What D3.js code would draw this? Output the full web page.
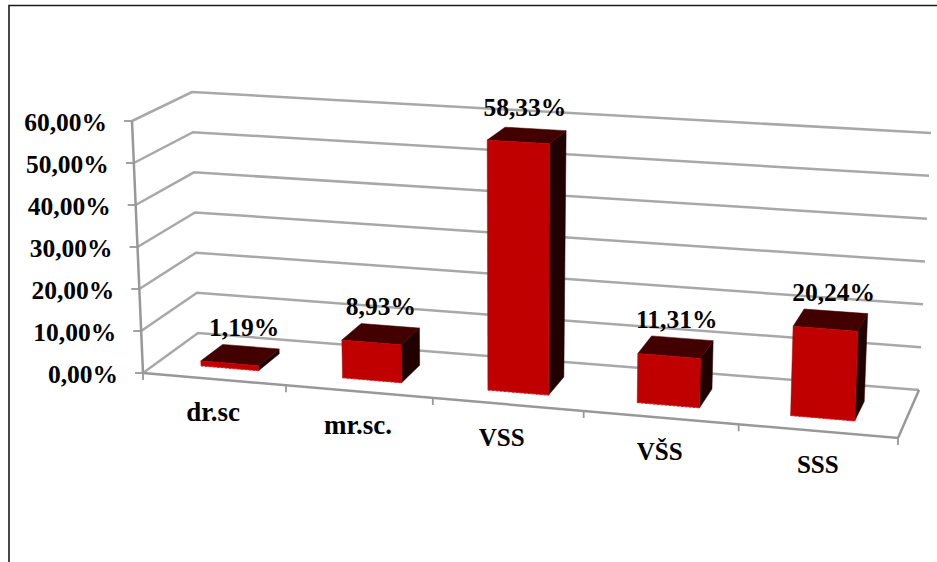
<!DOCTYPE html>
<html><head><meta charset="utf-8">
<script src="https://cdn.jsdelivr.net/npm/d3@7/dist/d3.min.js"></script>
<style>html,body{margin:0;padding:0;background:#fff}svg{display:block}text{font-family:"Liberation Serif",serif;font-weight:bold;fill:#000}</style>
</head><body><div id="c"></div><script>
const categories = ["dr.sc","mr.sc.","VSS","VŠS","SSS"];
const values = [1.19,8.93,58.33,11.31,20.24];
const valueLabels = ["1,19%","8,93%","58,33%","11,31%","20,24%"];
const ticks = [0,10,20,30,40,50,60];
const tickLabels = ["0,00%","10,00%","20,00%","30,00%","40,00%","50,00%","60,00%"];

const W=937,H=562;
const svg=d3.select("#c").append("svg").attr("width",W).attr("height",H);
svg.append("path").attr("d",d3.line()([[9,H],[9,5.5],[W,5.5]])).attr("fill","none").attr("stroke","#1a1a1a").attr("stroke-width",1.6);

// oblique 3D box: corners of the plot cube on screen
const corners={flb:[143,373],flt:[132,121],frb:[898,438],frt:[908,167],blb:[198,333],blt:[192,92],brb:[919,390],brt:[931,133]};
const vScale=d3.scaleLinear().domain([0,60]).range([0,1]);
const band=d3.scaleBand().domain(categories).range([0,1]).paddingInner(.59).paddingOuter(.31);
const persp=1.07, warp=t=>t/(t+persp*(1-t));
const mix=(a,b,k)=>[a[0]+(b[0]-a[0])*k,a[1]+(b[1]-a[1])*k];
function P(t,v,d){
  const s=warp(t), h=vScale(v);
  const fb=mix(corners.flb,corners.frb,s), ft=mix(corners.flt,corners.frt,s);
  const bb=mix(corners.blb,corners.brb,s), bt=mix(corners.blt,corners.brt,s);
  return mix(mix(fb,ft,h),mix(bb,bt,h),d);
}
const line=d3.line(), G="#a8a8a8", A="#989898";
const g=svg.append("g").attr("fill","none").attr("stroke",G).attr("stroke-width",2.5);
ticks.forEach(v=>{ g.append("path").attr("d",line([P(0,v,0),P(0,v,1),P(1,v,1)])); });
const a=svg.append("g").attr("fill","none").attr("stroke",A).attr("stroke-width",2.5);
a.append("path").attr("d",line([P(0,60,0),P(0,0,0)]));
a.append("path").attr("d",line([P(0,0,0),P(1,0,0),P(1,0,1)]));
ticks.forEach(v=>{const p=P(0,v,0); a.append("path").attr("stroke-width",1.8).attr("d",line([[p[0]-8,p[1]],p]));});
d3.range(6).forEach(i=>{const p=P(i/5,0,0); a.append("path").attr("stroke-width",1.8).attr("d",line([p,[p[0],p[1]+7]]));});

// bars
const d0=.27,d1=.68;
const bars=svg.append("g");
categories.forEach((c,i)=>{
  const t0=band(c),t1=t0+band.bandwidth(),v=values[i];
  const poly=(pts,fill)=>bars.append("polygon").attr("points",pts.map(p=>p.join(",")).join(" ")).attr("fill",fill).attr("stroke",fill).attr("stroke-width",.5);
  poly([P(t1,0,d0),P(t1,0,d1),P(t1,v,d1),P(t1,v,d0)],"#210000");
  poly([P(t0,v,d0),P(t1,v,d0),P(t1,v,d1),P(t0,v,d1)],"#420000");
  poly([P(t0,0,d0),P(t1,0,d0),P(t1,v,d0),P(t0,v,d0)],"#c00000");
  bars.append("path").attr("d",line([P(t0,0,d0),P(t1,0,d0)])).attr("stroke","#f01010").attr("stroke-width",1).attr("stroke-dasharray","2 2");
});

// text
const catSize=[27,27,25,25,25], catShift=[-1,-1,-6,-1,0], labelShift=[4,0,-2,1,3];
const txt=(x,y,s,size,anchor)=>svg.append("text").attr("x",x).attr("y",y).attr("font-size",size).attr("text-anchor",anchor).text(s);
ticks.forEach((v,i)=>{const p=P(0,v,0); txt(p[0]-25,p[1]+10,tickLabels[i],25.5,"end");});
categories.forEach((c,i)=>{const p=P((i+.5)/5,0,0); txt(p[0]+catShift[i],p[1]+42,c,catSize[i],"middle");});
categories.forEach((c,i)=>{
  const t=band(c)+band.bandwidth()/2, p=P(t,values[i],(d0+d1)/2);
  txt(p[0]+labelShift[i],p[1]-19,valueLabels[i],25.5,"middle");
});
</script></body></html>
